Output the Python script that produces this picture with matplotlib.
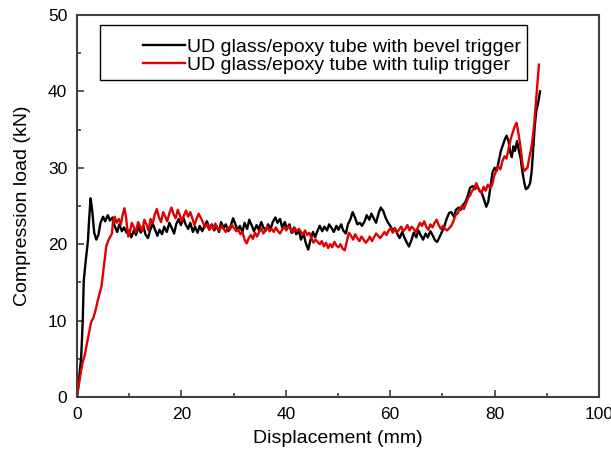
import matplotlib
matplotlib.use("Agg")
import matplotlib.pyplot as plt
from matplotlib.patches import Rectangle
from matplotlib.ticker import MultipleLocator

plt.rcParams['font.family'] = ['Liberation Sans', 'DejaVu Sans']

# Bevel trigger (black)
bevel_x = [0, 0.4, 0.8, 1.1, 1.3, 1.7, 2.1, 2.3, 2.6, 2.9, 3.3, 3.7, 4.1, 4.5, 5.0, 5.4, 5.9, 6.3, 6.8, 7.2,
           7.7, 8.1, 8.6, 9.0, 9.5, 10.0, 10.4, 10.9, 11.3, 11.8, 12.2, 12.7, 13.1, 13.6, 14.0, 14.5, 14.9, 15.4, 15.8, 16.3,
           16.7, 17.2, 17.7, 18.1, 18.6, 19.0, 19.5, 19.9, 20.4, 20.8, 21.3, 21.7, 22.2, 22.6, 23.1, 23.5, 24.0, 24.5, 24.9, 25.4,
           25.8, 26.3, 26.7, 27.2, 27.6, 28.1, 28.5, 29.0, 29.4, 29.9, 30.3, 30.8, 31.2, 31.7, 32.1, 32.6, 33.0, 33.5, 33.9, 34.4,
           34.8, 35.3, 35.7, 36.2, 36.6, 37.1, 37.5, 38.0, 38.4, 38.9, 39.3, 39.8, 40.2, 40.7, 41.1, 41.6, 42.0, 42.5, 42.9, 43.4,
           43.8, 44.3, 44.7, 45.2, 45.6, 46.1, 46.5, 47.0, 47.4, 47.9, 48.3, 48.8, 49.2, 49.7, 50.1, 50.6, 51.0, 51.5, 51.9, 52.4,
           52.8, 53.3, 53.7, 54.2, 54.6, 55.1, 55.5, 56.0, 56.4, 56.9, 57.3, 57.8, 58.2, 58.7, 59.1, 59.6, 60.0, 60.5, 60.9, 61.4,
           61.8, 62.3, 62.7, 63.2, 63.6, 64.1, 64.5, 65.0, 65.4, 65.9, 66.3, 66.8, 67.2, 67.7, 68.1, 68.6, 69.0, 69.5, 69.9, 70.4,
           70.8, 71.3, 71.7, 72.2, 72.6, 73.1, 73.5, 74.0, 74.4, 74.9, 75.3, 75.8, 76.2, 76.7, 77.1, 77.5, 78.0, 78.4, 78.8, 79.2,
           79.6, 80.0, 80.4, 80.8, 81.2, 81.6, 82.0, 82.3, 82.7, 83.0, 83.3, 83.6, 83.9, 84.3, 84.6, 85.0, 85.3, 85.7, 86.0, 86.4,
           86.8, 87.1, 87.4, 87.7, 88.0, 88.3, 88.7]
bevel_y = [0, 2.5, 5.2, 10.0, 15.3, 18.0, 20.5, 23.0, 26.0, 24.5, 21.5, 20.6, 21.2, 22.8, 23.6, 23.0, 23.8, 23.1, 23.5, 22.4,
           21.6, 22.6, 21.7, 22.2, 21.5, 21.8, 20.9, 21.8, 21.2, 22.3, 21.5, 22.4, 21.3, 20.8, 21.8, 22.7, 22.0, 21.1, 21.9, 21.3,
           22.3, 21.6, 22.8, 22.2, 21.4, 22.6, 23.3, 22.5, 23.4, 22.6, 22.0, 22.8, 21.6, 22.3, 21.5, 22.4, 21.7, 22.5, 23.0, 21.9,
           22.6, 21.8, 22.4, 21.6, 22.9, 22.1, 22.6, 21.7, 22.3, 23.4, 22.7, 21.8, 22.4, 21.6, 22.8, 22.0, 23.2, 22.4, 21.7, 22.5,
           21.9, 22.9, 22.2, 21.8, 22.6, 22.0, 22.9, 23.5, 22.8, 23.3, 22.2, 22.9, 22.1, 22.6, 21.5, 22.2, 21.3, 21.8, 20.6, 21.4,
           20.2, 19.3, 20.5, 21.6, 20.9, 21.8, 22.4, 21.7, 22.3, 21.8, 22.6, 22.1, 21.6, 22.4, 21.9, 22.6, 21.8, 21.4, 22.6, 23.3,
           24.2, 23.4, 22.6, 22.8, 22.4, 23.0, 23.8, 23.2, 24.0, 23.3, 22.8, 24.1, 24.8, 24.3, 23.5, 22.8, 22.4, 21.8, 22.1, 21.3,
           20.8, 21.6, 20.9, 20.2, 19.7, 20.6, 21.5, 20.9, 21.8, 21.1, 20.6, 21.4, 20.9, 21.7, 21.2, 20.5, 20.3, 21.0, 21.6, 22.4,
           23.3, 24.1, 24.2, 23.6, 24.5, 24.8, 24.5, 25.2, 25.5, 26.4, 27.4, 27.6, 27.2, 27.6, 27.0, 26.8, 25.8, 24.9, 25.6, 27.5,
           29.4, 30.0, 29.6, 30.9, 32.2, 33.0, 33.8, 34.2, 33.4, 32.0, 31.4, 32.8, 32.2, 33.5, 32.4, 31.2, 29.6, 28.0, 27.2, 27.4,
           28.0, 29.5, 32.5, 35.5, 37.5, 38.3, 40.0]

# Tulip trigger (red)
tulip_x = [0, 0.4, 0.8, 1.1, 1.5, 1.9, 2.3, 2.7, 3.1, 3.5, 3.9, 4.3, 4.7, 5.0, 5.3, 5.6, 6.0, 6.4, 6.7, 6.9,
           7.2, 7.6, 8.0, 8.4, 8.8, 9.1, 9.4, 9.8, 10.1, 10.5, 10.9, 11.3, 11.7, 12.1, 12.5, 12.9, 13.3, 13.7, 14.1, 14.5,
           14.9, 15.3, 15.7, 16.1, 16.5, 16.9, 17.3, 17.7, 18.1, 18.5, 18.9, 19.3, 19.7, 20.1, 20.5, 20.9, 21.3, 21.7, 22.1, 22.5,
           22.9, 23.3, 23.7, 24.1, 24.5, 24.9, 25.3, 25.7, 26.1, 26.5, 26.9, 27.3, 27.7, 28.1, 28.5, 28.9, 29.3, 29.7, 30.1, 30.5,
           30.9, 31.3, 31.7, 32.1, 32.5, 32.9, 33.3, 33.7, 34.1, 34.5, 34.9, 35.3, 35.7, 36.1, 36.5, 36.9, 37.3, 37.7, 38.1, 38.5,
           38.9, 39.3, 39.7, 40.1, 40.5, 40.9, 41.3, 41.7, 42.1, 42.5, 42.9, 43.3, 43.7, 44.1, 44.5, 44.9, 45.3, 45.7, 46.1, 46.5,
           46.9, 47.3, 47.7, 48.1, 48.5, 48.9, 49.3, 49.7, 50.1, 50.5, 50.9, 51.3, 51.7, 52.1, 52.5, 52.9, 53.3, 53.7, 54.1, 54.5,
           54.9, 55.3, 55.7, 56.1, 56.5, 56.9, 57.3, 57.7, 58.1, 58.5, 58.9, 59.3, 59.7, 60.1, 60.5, 60.9, 61.3, 61.7, 62.1, 62.5,
           62.9, 63.3, 63.7, 64.1, 64.5, 64.9, 65.3, 65.7, 66.1, 66.5, 66.9, 67.3, 67.7, 68.1, 68.5, 68.9, 69.3, 69.7, 70.1, 70.5,
           70.9, 71.3, 71.7, 72.1, 72.5, 72.9, 73.3, 73.7, 74.1, 74.5, 74.9, 75.3, 75.7, 76.1, 76.5, 76.8, 77.1, 77.5, 77.9, 78.3,
           78.7, 79.1, 79.5, 79.9, 80.3, 80.7, 81.1, 81.5, 81.9, 82.3, 82.7, 83.1, 83.5, 83.9, 84.2, 84.5, 84.8, 85.1, 85.4, 85.7,
           86.0, 86.3, 86.6, 86.9, 87.2, 87.6, 87.9, 88.2, 88.5]
tulip_y = [0, 1.8, 3.5, 4.6, 5.5, 7.0, 8.4, 9.8, 10.3, 11.2, 12.4, 13.5, 14.5, 16.2, 18.0, 19.7, 20.5, 21.0, 21.4, 23.0,
           23.6, 22.8, 23.3, 22.6, 24.0, 24.7, 23.5, 21.0, 21.5, 22.8, 22.2, 21.6, 22.9, 22.3, 21.7, 23.2, 22.6, 21.8, 23.3, 22.7,
           23.9, 24.6, 23.5, 22.9, 24.2, 23.6, 23.0, 24.1, 24.8, 23.9, 23.4, 24.5, 23.8, 23.0, 23.8, 24.4, 23.6, 24.2, 23.4, 22.5,
           23.3, 24.0, 23.5, 22.9, 22.2, 22.6, 21.9, 22.5, 22.0, 22.7, 22.1, 21.8, 22.4, 22.0, 21.6, 22.2, 21.9, 22.5, 22.1, 21.7,
           21.9, 21.3, 21.6, 20.6, 20.1, 20.8, 21.2, 20.7, 21.5, 21.0, 21.6, 22.1, 21.4, 21.8, 22.3, 21.7, 22.0, 21.6, 22.2, 21.7,
           21.4, 21.9, 22.3, 21.8, 22.4, 22.0, 21.5, 22.1, 21.7, 22.0, 21.6, 21.3, 21.8, 21.2, 21.5, 20.8, 20.2, 20.6, 20.3, 20.0,
           20.4, 19.7, 20.2, 19.5, 20.0, 19.6, 20.3, 19.8, 19.6, 20.0, 19.4, 19.2, 20.4, 21.5, 21.1, 20.6, 21.3, 20.8, 20.4, 21.0,
           20.6, 20.2, 20.5, 21.0, 20.4, 20.9, 21.4, 21.1, 20.8, 21.2, 21.6, 21.2, 21.8, 22.1, 21.5, 22.0, 21.6, 21.9, 22.3, 21.7,
           22.0, 22.5, 21.8, 22.3, 22.0, 21.6, 22.2, 22.8, 22.4, 23.0, 22.3, 21.9, 22.6, 22.2, 22.8, 23.2, 22.5, 22.0, 22.4, 22.0,
           21.8, 22.1, 22.4, 23.0, 23.8, 24.0, 24.6, 25.0, 24.6, 25.3, 26.0, 26.4, 27.0, 27.3, 28.0, 27.4, 27.0, 26.7, 27.5, 27.0,
           27.8, 27.4, 27.7, 28.9, 29.6, 30.2, 29.8, 30.9, 31.5, 31.2, 32.6, 33.8, 34.7, 35.5, 35.9, 34.8, 33.5, 32.0, 30.2, 29.6,
           29.8, 30.0, 31.2, 32.1, 33.4, 35.8, 38.5, 41.0, 43.5]

labels = ["UD glass/epoxy tube with bevel trigger", "UD glass/epoxy tube with tulip trigger"]

fig = plt.figure(figsize=(6.11, 4.58), dpi=100)
ax = fig.add_axes([77/611, 61/458, 522/611, 382/458])

ax.plot(bevel_x, bevel_y, color="black", lw=1.7, label=labels[0])
ax.plot(tulip_x, tulip_y, color="#e00000", lw=1.7, label=labels[1])

ax.set_xlim(0, 100)
ax.set_ylim(0, 50)
ax.xaxis.set_major_locator(MultipleLocator(20))
ax.xaxis.set_minor_locator(MultipleLocator(10))
ax.yaxis.set_major_locator(MultipleLocator(10))
ax.yaxis.set_minor_locator(MultipleLocator(5))
ax.tick_params(which="major", direction="in", length=5, width=1.2, labelsize=12.5,
               color="#404040", pad=7)
ax.tick_params(which="minor", direction="in", length=3, width=1.2, color="#404040")
for s in ax.spines.values():
    s.set_linewidth(1.5)
    s.set_color("#404040")

ax.set_xlabel("Displacement (mm)", fontsize=14, labelpad=6)
ax.set_ylabel("Compression load (kN)", fontsize=14, labelpad=12)

# legend box is wider than the entries, so draw the frame separately
ax.add_patch(Rectangle((0.044, 0.830), 0.818, 0.144, transform=ax.transAxes,
                       facecolor="white", edgecolor="black", lw=1.0, zorder=4))
leg = ax.legend(loc="upper left", bbox_to_anchor=(0.126, 0.940), fontsize=14,
                frameon=False, handlelength=2.15, handletextpad=0.15,
                borderaxespad=0, borderpad=0, labelspacing=0.05)
leg.set_zorder(5)

fig.savefig("out.png", dpi=100)
